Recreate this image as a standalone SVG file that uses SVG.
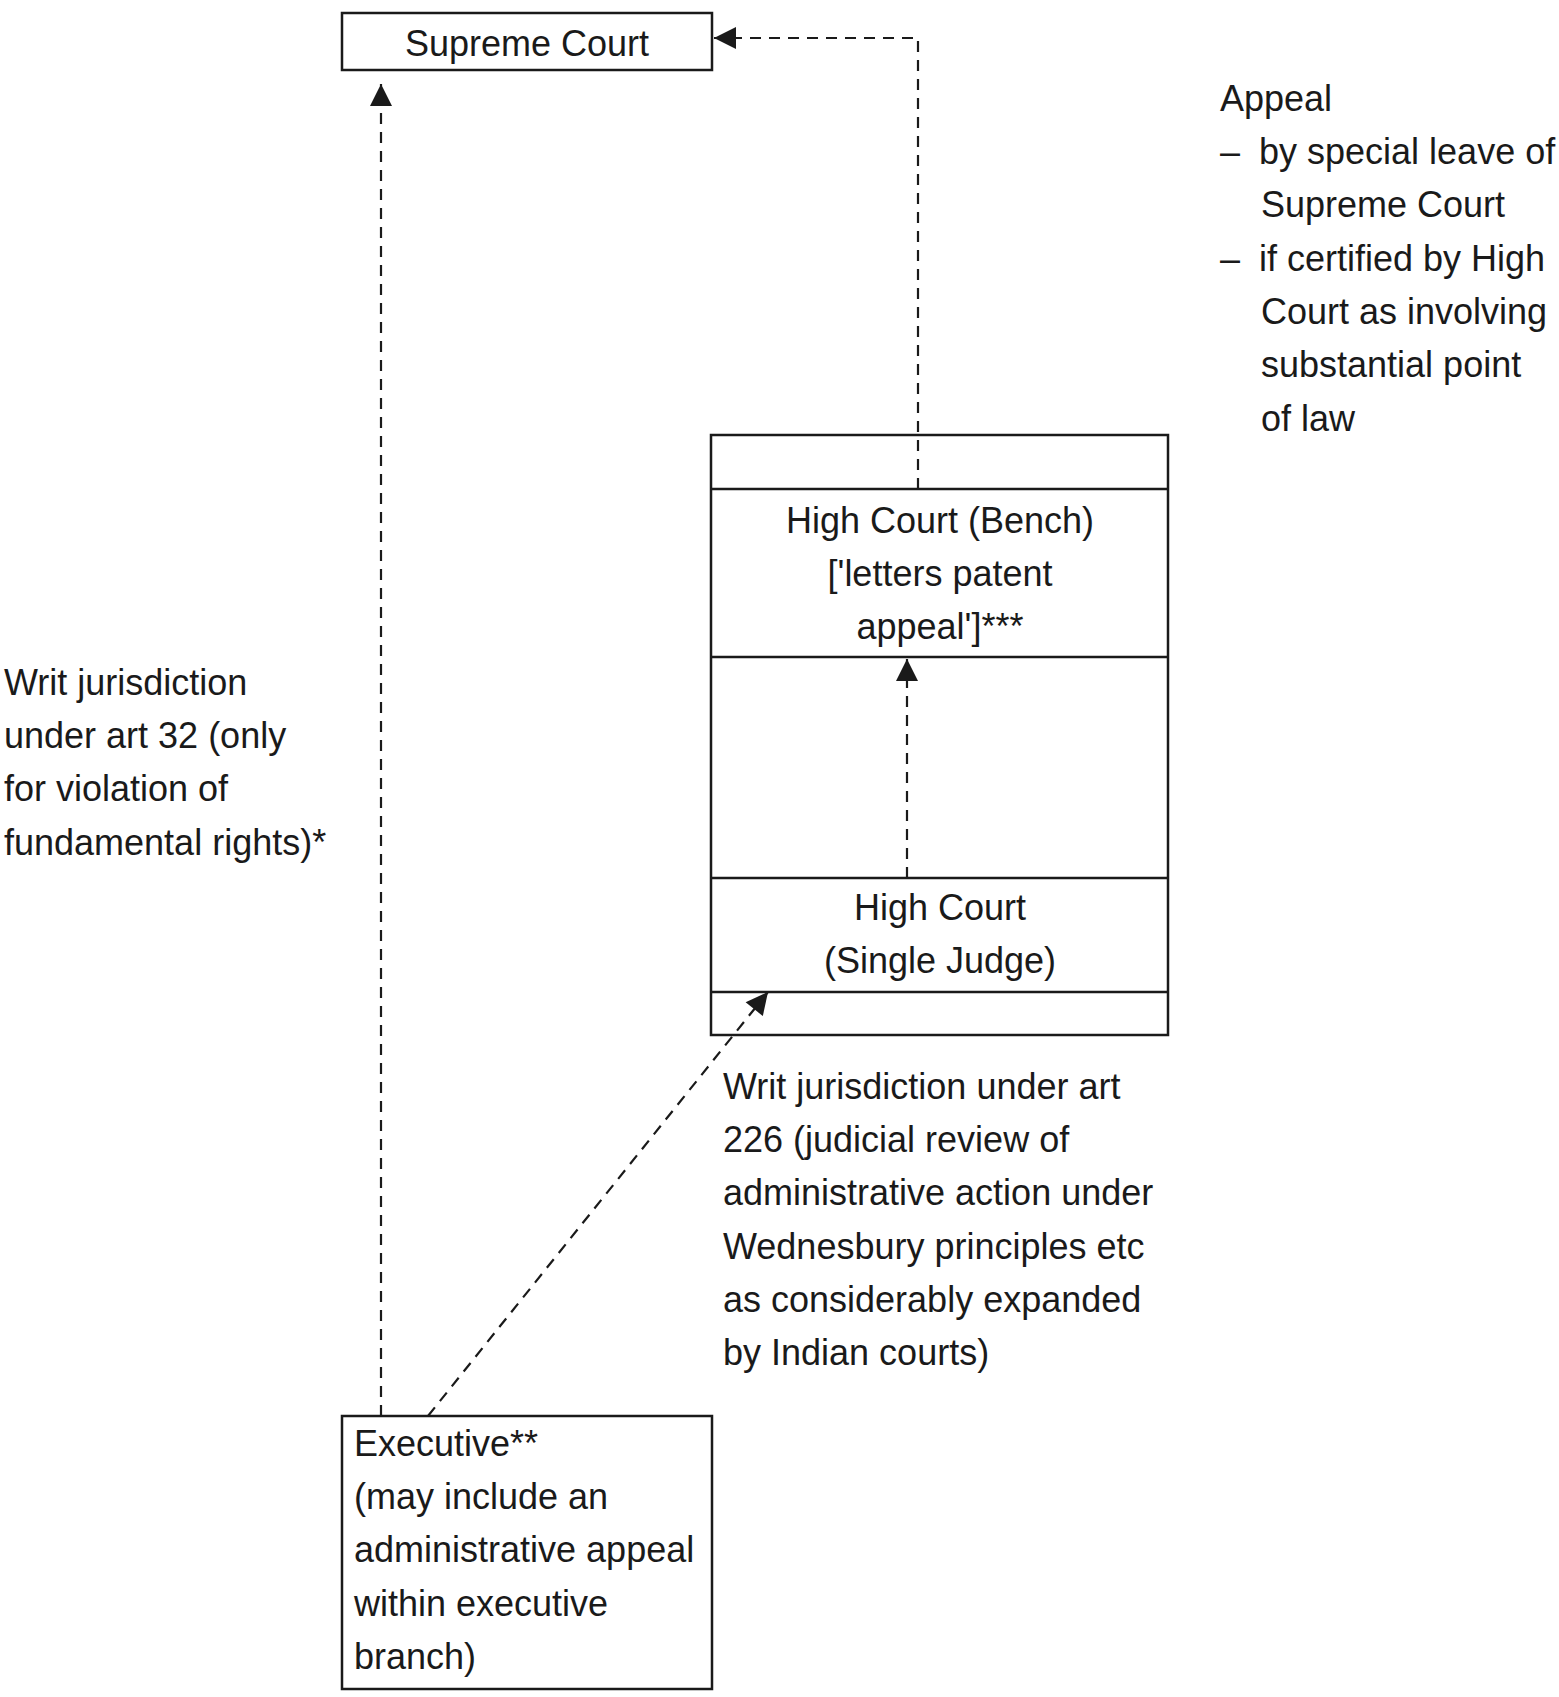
<svg xmlns="http://www.w3.org/2000/svg" width="1559" height="1697" viewBox="0 0 1559 1697">
<style>
.t{font-family:"Liberation Sans",Arial,sans-serif;font-size:36px;fill:#1a1a1a}
.c{text-anchor:middle}
.box{fill:#fff;stroke:#1a1a1a;stroke-width:2.5}
.frame{fill:none;stroke:#1a1a1a;stroke-width:2.5}
.ln{stroke:#1a1a1a;stroke-width:2.5}
.dash{fill:none;stroke:#1a1a1a;stroke-width:2.2;stroke-dasharray:11 8}
</style>
<defs>
<marker id="ah" viewBox="0 0 10 10" refX="10" refY="5" markerWidth="23" markerHeight="22" markerUnits="userSpaceOnUse" orient="auto">
<path d="M0,0 L10,5 L0,10 Z" fill="#1a1a1a"/>
</marker>
</defs>
<rect width="1559" height="1697" fill="#fff"/>
<g id="supreme-court">
<rect class="box" x="342" y="13" width="370" height="57"/>
<text class="t c" x="527" y="56">Supreme Court</text>
</g>
<g id="high-court">
<rect class="frame" x="711" y="435" width="457" height="600"/>
<line class="ln" x1="711" y1="489" x2="1168" y2="489"/>
<line class="ln" x1="711" y1="657" x2="1168" y2="657"/>
<line class="ln" x1="711" y1="878" x2="1168" y2="878"/>
<line class="ln" x1="711" y1="992" x2="1168" y2="992"/>
</g>
<g id="high-court-bench">
<text class="t c" x="940" y="533">High Court (Bench)</text>
<text class="t c" x="940" y="586">['letters patent</text>
<text class="t c" x="940" y="639">appeal']***</text>
</g>
<g id="high-court-single">
<text class="t c" x="940" y="920">High Court</text>
<text class="t c" x="940" y="973">(Single Judge)</text>
</g>
<g id="executive">
<rect class="box" x="342" y="1416" width="370" height="273"/>
<text class="t" x="354" y="1456">Executive**</text>
<text class="t" x="354" y="1509">(may include an</text>
<text class="t" x="354" y="1562">administrative appeal</text>
<text class="t" x="354" y="1616">within executive</text>
<text class="t" x="354" y="1669">branch)</text>
</g>
<g id="appeal-label">
<text class="t" x="1220" y="111">Appeal</text>
<text class="t" x="1220" y="164">–</text>
<text class="t" x="1259" y="164">by special leave of</text>
<text class="t" x="1261" y="217">Supreme Court</text>
<text class="t" x="1220" y="271">–</text>
<text class="t" x="1259" y="271">if certified by High</text>
<text class="t" x="1261" y="324">Court as involving</text>
<text class="t" x="1261" y="377">substantial point</text>
<text class="t" x="1261" y="431">of law</text>
</g>
<g id="art32-label">
<text class="t" x="4" y="695">Writ jurisdiction</text>
<text class="t" x="4" y="748">under art 32 (only</text>
<text class="t" x="4" y="801">for violation of</text>
<text class="t" x="4" y="855">fundamental rights)*</text>
</g>
<g id="art226-label">
<text class="t" x="723" y="1099">Writ jurisdiction under art</text>
<text class="t" x="723" y="1152">226 (judicial review of</text>
<text class="t" x="723" y="1205">administrative action under</text>
<text class="t" x="723" y="1259">Wednesbury principles etc</text>
<text class="t" x="723" y="1312">as considerably expanded</text>
<text class="t" x="723" y="1365">by Indian courts)</text>
</g>
<g id="connectors">
<path class="dash" d="M918,489 V38 H714" marker-end="url(#ah)"/>
<path class="dash" d="M381,1416 V84" marker-end="url(#ah)"/>
<path class="dash" d="M907,878 V659" marker-end="url(#ah)"/>
<path class="dash" d="M428,1416 L768,992" marker-end="url(#ah)"/>
</g>
</svg>
